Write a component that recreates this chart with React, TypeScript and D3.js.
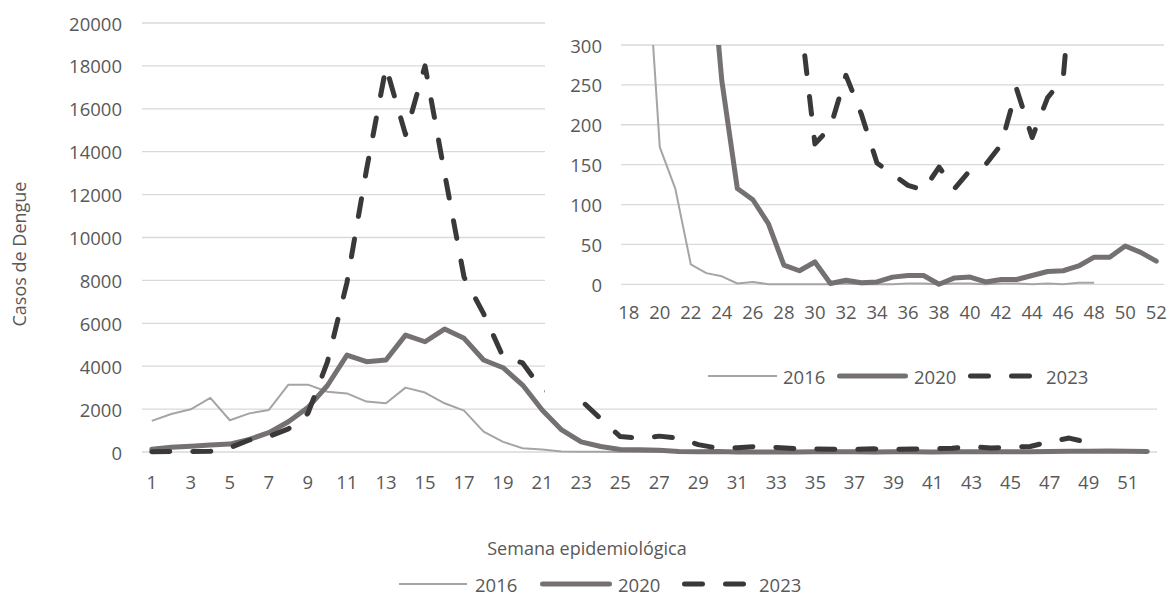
import React from "react";
import * as d3 from "d3";

// ---------- data ----------
const WEEKS = [1,2,3,4,5,6,7,8,9,10,11,12,13,14,15,16,17,18,19,20,21,22,23,24,25,26,27,28,29,30,31,32,33,34,35,36,37,38,39,40,41,42,43,44,45,46,47,48,49,50,51,52];
const INSET_WEEKS = [18,19,20,21,22,23,24,25,26,27,28,29,30,31,32,33,34,35,36,37,38,39,40,41,42,43,44,45,46,47,48,49,50,51,52];

const CASES_2016 = [1450,1770,1990,2520,1480,1800,1960,3140,3140,2810,2730,2350,2270,3000,2770,2270,1930,950,470,172,120,25,14,10,1,3,0,0,0,0,0,1,0,0,0,1,1,0,1,1,0,1,1,0,1,0,2,2];
const CASES_2020 = [125,220,265,325,370,590,900,1410,2070,3100,4520,4210,4290,5450,5140,5730,5300,4290,3930,3120,1960,1030,470,255,120,106,76,24,17,28,1,5,2,3,9,11,11,0,8,9,3,6,6,11,16,17,23,34,34,48,40,29];
const CASES_2023 = [15,20,25,35,200,560,720,1080,1800,4200,7900,13150,17950,14800,18000,13000,8150,6450,4430,4150,2900,2650,2400,1550,720,640,740,650,345,176,197,262,213,152,138,124,118,147,120,143,150,175,245,184,234,258,480,650,430];

const SERIES_NAMES = ["2016", "2020", "2023"];
const MAIN_Y_TICKS = [0,2000,4000,6000,8000,10000,12000,14000,16000,18000,20000];
const INSET_Y_TICKS = [0,50,100,150,200,250,300];
const MAIN_X_LABELS = [1,3,5,7,9,11,13,15,17,19,21,23,25,27,29,31,33,35,37,39,41,43,45,47,49,51];
const INSET_X_LABELS = [18,20,22,24,26,28,30,32,34,36,38,40,42,44,46,48,50,52];

const Y_TITLE = "Casos de Dengue";
const X_TITLE = "Semana epidemiológica";

// ---------- styles ----------
const FONT = "'Open Sans', 'Noto Sans', sans-serif";
const TEXT = "#595959";
const GRID = "#D9D9D9";
const STYLES = [
  { color: "#A5A5A5", width: 2, dash: null as string | null },
  { color: "#767171", width: 5, dash: null as string | null },
  { color: "#3B3838", width: 5, dash: "18 23" },
];

type Pt = { w: number; v: number };

export default function App() {
  const W = 1169, H = 602;
  const SERIES = [CASES_2016, CASES_2020, CASES_2023];

  // main chart
  const xM = d3.scaleBand<number>().domain(WEEKS).range([142, 1157]);
  const cM = (w: number) => (xM(w) as number) + xM.bandwidth() / 2;
  const yM = d3.scaleLinear().domain([0, 20000]).range([452, 23]);
  const lineM = d3.line<Pt>().x(d => cM(d.w)).y(d => yM(d.v));

  // inset
  const xI = d3.scaleBand<number>().domain(INSET_WEEKS).range([621, 1164]);
  const cI = (w: number) => (xI(w) as number) + xI.bandwidth() / 2;
  const yI = d3.scaleLinear().domain([0, 300]).range([284.3, 45]);
  const lineI = d3.line<Pt>().x(d => cI(d.w)).y(d => yI(d.v));

  const pts = (vals: number[]): Pt[] => vals.map((v, i) => ({ w: WEEKS[i], v }));
  const ptsInset = (vals: number[]): Pt[] => pts(vals).filter(p => p.w >= INSET_WEEKS[0]);

  const fs = 18.5;

  const mainLegend = [
    { line: [399, 467], text: 475 },
    { line: [540, 612], text: 618 },
    { line: [682, 750], text: 759 },
  ];
  const insetLegend = [
    { line: [708, 777], text: 783 },
    { line: [837, 908], text: 914 },
    { line: [968, 1037], text: 1046 },
  ];

  const legendLine = (i: number, x0: number, x1: number, y: number) => {
    const s = STYLES[i];
    const cap = s.width >= 4 ? s.width / 2 : 0;
    return (
      <line
        x1={x0 + cap}
        x2={x1 - cap}
        y1={y}
        y2={y}
        stroke={s.color}
        strokeWidth={s.width}
        strokeLinecap={s.width >= 4 ? "round" : "butt"}
        strokeDasharray={s.dash ?? undefined}
      />
    );
  };

  return (
    <svg width={W} height={H} style={{ display: "block", position: "absolute", left: 0, top: 0, background: "#fff" }} fontFamily={FONT}>
      <rect x={0} y={0} width={W} height={H} fill="#fff" />
      {/* main gridlines */}
      {MAIN_Y_TICKS.map(t => (
        <line key={"mg" + t} x1={142} x2={1157} y1={yM(t)} y2={yM(t)} stroke={GRID} strokeWidth={1.3} />
      ))}
      {/* main lines */}
      {SERIES.map((vals, i) => (
        <path
          key={"ml" + i}
          d={lineM(pts(vals)) as string}
          fill="none"
          stroke={STYLES[i].color}
          strokeWidth={STYLES[i].width}
          strokeLinejoin="round"
          strokeLinecap={i === 0 ? "butt" : "round"}
          strokeDasharray={STYLES[i].dash ?? undefined}
        />
      ))}
      {/* main y labels */}
      {MAIN_Y_TICKS.map(t => (
        <text key={"my" + t} x={122} y={yM(t)} textAnchor="end" dominantBaseline="central" fontSize={fs} fill={TEXT}>{t}</text>
      ))}
      {/* main x labels */}
      {MAIN_X_LABELS.map(w => (
        <text key={"mx" + w} x={cM(w)} y={481} textAnchor="middle" dominantBaseline="central" fontSize={fs} fill={TEXT}>{w}</text>
      ))}
      <text transform="translate(19,254) rotate(-90)" textAnchor="middle" dominantBaseline="central" fontSize={18} fill={TEXT}>{Y_TITLE}</text>
      <text x={587} y={548} textAnchor="middle" dominantBaseline="central" fontSize={18} fill={TEXT}>{X_TITLE}</text>
      {/* main legend */}
      {SERIES_NAMES.map((n, i) => (
        <g key={"lg" + n}>
          {legendLine(i, mainLegend[i].line[0], mainLegend[i].line[1], 584)}
          <text x={mainLegend[i].text} y={584} dominantBaseline="central" fontSize={fs} fill={TEXT}>{n}</text>
        </g>
      ))}

      {/* inset */}
      <rect x={545} y={0} width={W - 545} height={401} fill="#fff" />
      <defs>
        <clipPath id="insetClip">
          <rect x={621} y={45} width={1164 - 621} height={260} />
        </clipPath>
      </defs>
      {INSET_Y_TICKS.map(t => (
        <line key={"ig" + t} x1={621} x2={1164} y1={yI(t)} y2={yI(t)} stroke={GRID} strokeWidth={1.3} />
      ))}
      <g clipPath="url(#insetClip)">
        {SERIES.map((vals, i) => (
          <path
            key={"il" + i}
            d={lineI(ptsInset(vals)) as string}
            fill="none"
            stroke={STYLES[i].color}
            strokeWidth={STYLES[i].width}
            strokeLinejoin="round"
            strokeLinecap={i === 0 ? "butt" : "round"}
            strokeDasharray={STYLES[i].dash ?? undefined}
          />
        ))}
      </g>
      {INSET_Y_TICKS.map(t => (
        <text key={"iy" + t} x={602} y={yI(t)} textAnchor="end" dominantBaseline="central" fontSize={fs} fill={TEXT}>{t}</text>
      ))}
      {INSET_X_LABELS.map(w => (
        <text key={"ix" + w} x={cI(w)} y={311} textAnchor="middle" dominantBaseline="central" fontSize={fs} fill={TEXT}>{w}</text>
      ))}
      {SERIES_NAMES.map((n, i) => (
        <g key={"ilg" + n}>
          {legendLine(i, insetLegend[i].line[0], insetLegend[i].line[1], 376)}
          <text x={insetLegend[i].text} y={376} dominantBaseline="central" fontSize={fs} fill={TEXT}>{n}</text>
        </g>
      ))}
    </svg>
  );
}
